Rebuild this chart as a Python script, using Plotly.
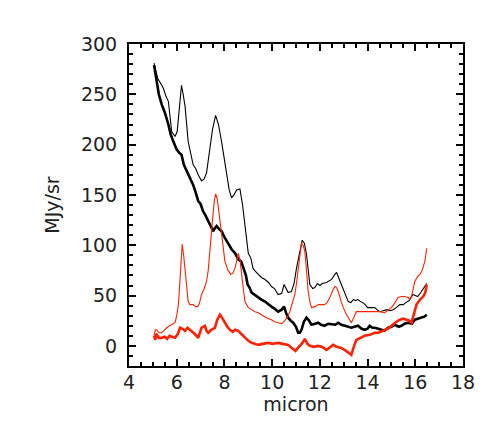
import plotly.graph_objects as go

# thin black spectrum
wl_thin_black = [5.05, 5.2, 5.3, 5.44, 5.55, 5.65, 5.79, 5.93, 6.02, 6.1, 6.2, 6.27, 6.35, 6.48, 6.6, 6.69,
                 6.8, 6.9, 7.04, 7.15, 7.25, 7.39, 7.5, 7.63, 7.75, 7.88, 8.0, 8.09, 8.2, 8.3, 8.4, 8.51,
                 8.65, 8.76, 8.86, 9.0, 9.11, 9.2, 9.3, 9.42, 9.55, 9.7, 9.85, 9.97, 10.1, 10.25, 10.4,
                 10.5, 10.58, 10.67, 10.81, 10.92, 11.02, 11.15, 11.26, 11.35, 11.44, 11.58, 11.7,
                 11.79, 11.9, 12.0, 12.1, 12.28, 12.4, 12.49, 12.6, 12.7, 12.8, 12.9, 13.05, 13.19,
                 13.3, 13.4, 13.5, 13.6, 13.7, 13.8, 13.9, 14.0, 14.15, 14.3, 14.4, 14.5, 14.65,
                 14.8, 14.95, 15.07, 15.2, 15.35, 15.5, 15.6, 15.75, 15.9, 16.0, 16.1, 16.2, 16.3,
                 16.4, 16.48]
flux_thin_black = [281, 266, 262, 256, 248, 243, 213, 208, 213, 232, 259, 250, 238, 203, 190, 180,
                   176, 170, 164, 166, 172, 197, 215, 229, 220, 203, 185, 170, 155, 147, 150, 155,
                   156, 140, 120, 92, 87, 77, 74, 71, 68, 66, 63, 59, 57, 51, 52, 61, 57, 53, 54,
                   62, 77, 92, 105, 102, 91, 61, 57, 58, 62, 60, 62, 63, 65, 66, 70, 73, 67, 61,
                   52, 44, 43, 46, 45, 46, 44, 43, 41, 38, 38, 38, 36, 34, 35, 36, 35, 36, 38, 41,
                   41, 43, 45, 51, 50, 49, 52, 56, 59, 62]

# thick black spectrum
wl_thick_black = [5.05, 5.15, 5.25, 5.37, 5.5, 5.65, 5.75, 5.86, 6.0, 6.1, 6.2, 6.3, 6.48, 6.6, 6.69,
                  6.8, 6.9, 7.0, 7.1, 7.2, 7.32, 7.43, 7.53, 7.6, 7.67, 7.78, 7.88, 8.0, 8.09, 8.2,
                  8.3, 8.45, 8.58, 8.7, 8.79, 8.9, 8.97, 9.05, 9.14, 9.3, 9.42, 9.55, 9.7, 9.85, 9.97,
                  10.1, 10.25, 10.4, 10.5, 10.58, 10.67, 10.78, 10.88, 11.0, 11.09, 11.16, 11.23,
                  11.33, 11.44, 11.55, 11.65, 11.8, 11.93, 12.05, 12.2, 12.35, 12.55, 12.65, 12.77,
                  12.9, 13.05, 13.2, 13.32, 13.45, 13.6, 13.75, 13.88, 14.0, 14.09, 14.2, 14.3, 14.45,
                  14.58, 14.7, 14.86, 15.0, 15.14, 15.3, 15.42, 15.55, 15.7, 15.85, 15.98, 16.1,
                  16.25, 16.38, 16.48]
flux_thick_black = [279, 265, 250, 240, 232, 220, 210, 203, 195, 192, 190, 180, 170, 165, 160, 152,
                    144, 141, 134, 130, 124, 120, 114, 117, 119, 116, 114, 108, 104, 100, 96, 92, 86,
                    84, 77, 70, 61, 58, 53, 50, 48, 46, 44, 41, 39, 37, 34, 36, 39, 33, 28, 25, 23,
                    19, 13, 13, 16, 24, 28, 25, 21, 22, 23, 21, 20, 22, 21, 21, 23, 21, 20, 19, 18,
                    19, 20, 17, 16, 17, 20, 18, 18, 17, 16, 15, 18, 19, 21, 19, 20, 22, 23, 22, 26,
                    27, 28, 29, 31]

# thin red spectrum
wl_thin_red = [5.05, 5.1, 5.16, 5.25, 5.37, 5.45, 5.58, 5.7, 5.79, 5.93, 6.0, 6.07, 6.15, 6.23, 6.3,
               6.35, 6.42, 6.48, 6.55, 6.69, 6.8, 6.88, 6.95, 7.04, 7.15, 7.25, 7.32, 7.39, 7.5, 7.58,
               7.63, 7.7, 7.81, 7.92, 8.02, 8.15, 8.27, 8.35, 8.44, 8.52, 8.58, 8.65, 8.72, 8.8, 8.86,
               9.0, 9.14, 9.28, 9.42, 9.56, 9.75, 9.97, 10.1, 10.25, 10.4, 10.53, 10.65, 10.74,
               10.85, 10.95, 11.02, 11.09, 11.16, 11.23, 11.3, 11.37, 11.44, 11.51, 11.58, 11.65,
               11.8, 11.93, 12.05, 12.2, 12.3, 12.42, 12.52, 12.63, 12.7, 12.77, 12.88, 12.98,
               13.1, 13.19, 13.32, 13.42, 13.53, 13.7, 13.88, 14.1, 14.3, 14.5, 14.72, 14.85, 15.0,
               15.15, 15.28, 15.42, 15.56, 15.7, 15.77, 15.85, 15.98, 16.1, 16.2, 16.3, 16.4, 16.48]
flux_thin_red = [10, 16, 16, 13, 13, 15, 18, 20, 21, 23, 30, 41, 70, 101, 88, 74, 55, 44, 41, 41, 39,
                 39, 42, 51, 57, 64, 75, 97, 125, 145, 151, 146, 124, 100, 84, 75, 71, 72, 77, 85,
                 92, 86, 74, 55, 44, 38, 36, 34, 33, 31, 28, 26, 24, 23, 22, 25, 29, 34, 42, 51, 62,
                 77, 90, 102, 100, 94, 75, 54, 44, 38, 39, 41, 41, 41, 43, 48, 54, 59, 58, 54, 45,
                 38, 32, 28, 23, 28, 34, 34, 34, 34, 34, 34, 33, 35, 38, 43, 48, 49, 49, 48, 46, 50,
                 64, 69, 71, 76, 84, 97]

# thick red spectrum
wl_thick_red = [5.05, 5.1, 5.15, 5.25, 5.37, 5.5, 5.6, 5.7, 5.8, 5.93, 6.05, 6.14, 6.25, 6.35, 6.45,
                6.55, 6.65, 6.75, 6.9, 7.04, 7.1, 7.18, 7.25, 7.32, 7.45, 7.6, 7.7, 7.81, 7.9, 8.02,
                8.12, 8.23, 8.35, 8.45, 8.58, 8.7, 8.86, 9.0, 9.14, 9.28, 9.42, 9.6, 9.83, 10.0, 10.25,
                10.45, 10.67, 10.82, 10.98, 11.08, 11.16, 11.27, 11.37, 11.48, 11.58, 11.75, 11.93,
                12.1, 12.28, 12.45, 12.56, 12.7, 12.9, 13.1, 13.2, 13.32, 13.42, 13.53, 13.7, 13.88,
                14.1, 14.3, 14.45, 14.65, 14.85, 15.0, 15.15, 15.35, 15.5, 15.63, 15.75, 15.84,
                15.95, 16.05, 16.2, 16.33, 16.42, 16.48]
flux_thick_red = [10, 6, 12, 8, 8, 9, 7, 10, 9, 8, 12, 18, 17, 15, 18, 16, 14, 12, 8, 18, 19, 20,
                  15, 13, 16, 18, 26, 31, 28, 23, 19, 16, 14, 16, 15, 12, 8, 5, 3, 2, 1, 2, 3, 2, 3,
                  2, 1, -2, -5, -2, 0, 3, 7, 2, 0, -1, 0, -1, -4, -1, 1, -1, -2, -5, -7, -9, -1, 6,
                  8, 10, 11, 13, 13, 15, 17, 20, 23, 26, 27, 26, 25, 23, 33, 41, 46, 49, 53, 61]

RED = "#ff2200"
FONT = dict(family="DejaVu Sans", size=19, color="#222")

fig = go.Figure()
fig.add_trace(go.Scatter(x=wl_thin_black, y=flux_thin_black, mode="lines",
                         line=dict(color="black", width=1.1)))
fig.add_trace(go.Scatter(x=wl_thick_black, y=flux_thick_black, mode="lines",
                         line=dict(color="black", width=2.6)))
fig.add_trace(go.Scatter(x=wl_thin_red, y=flux_thin_red, mode="lines",
                         line=dict(color=RED, width=1.1)))
fig.add_trace(go.Scatter(x=wl_thick_red, y=flux_thick_red, mode="lines",
                         line=dict(color=RED, width=2.6)))

axis_common = dict(
    showline=True, linecolor="black", linewidth=2, mirror="ticks",
    ticks="inside", ticklen=7, tickwidth=2, tickcolor="black",
    showgrid=False, zeroline=False,
    tickfont=FONT,
)

fig.update_xaxes(range=[4, 18], dtick=2, tick0=4,
                 minor=dict(ticks="inside", dtick=0.5, ticklen=4, tickwidth=1.5, tickcolor="black"),
                 title=dict(text="micron", font=FONT, standoff=5),
                 ticklabelstandoff=-2, **axis_common)
fig.update_yaxes(range=[-20, 300], dtick=50, tick0=0,
                 minor=dict(ticks="inside", dtick=10, ticklen=4, tickwidth=1.5, tickcolor="black"),
                 title=dict(text="MJy/sr", font=FONT, standoff=16),
                 ticklabelstandoff=6, **axis_common)

fig.update_layout(
    width=491, height=435,
    margin=dict(l=121, r=36, t=36, b=77),
    plot_bgcolor="white", paper_bgcolor="white",
    showlegend=False,
)

fig.write_html("out.html")
